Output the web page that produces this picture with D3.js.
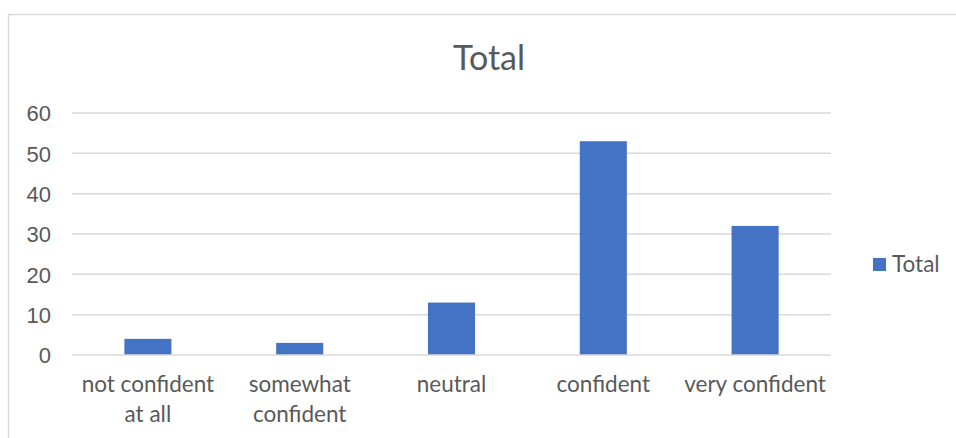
<!DOCTYPE html>
<html>
<head>
<meta charset="utf-8">
<script src="https://cdn.jsdelivr.net/npm/d3@7"></script>
<style>
  html, body { margin: 0; padding: 0; background: #ffffff; }
  svg { display: block; font-family: Lato, "Open Sans", sans-serif; }
</style>
</head>
<body>
<svg id="chart" width="956" height="438"></svg>
<script>
// Response counts per confidence level
const categories = [["not confident", "at all"], ["somewhat", "confident"], ["neutral"], ["confident"], ["very confident"]];
const totals = [4, 3, 13, 53, 32];
const yTicks = [0, 10, 20, 30, 40, 50, 60];
const seriesName = "Total";
const chartTitle = "Total";

const svg = d3.select("#chart");
const plot = { left: 72, right: 831, top: 113, bottom: 355 };
const textColor = "#595959";
const gridColor = "#d9d9d9";
const barColor = "#4472c4";

// Chart area frame (runs off the right and bottom edges)
svg.append("rect")
  .attr("x", 8.5).attr("y", 14.5)
  .attr("width", 960).attr("height", 440)
  .attr("fill", "#ffffff")
  .attr("stroke", gridColor).attr("stroke-width", 1.5);

const x = d3.scaleBand()
  .domain(d3.range(categories.length))
  .range([plot.left, plot.right])
  .paddingInner(0.69)
  .paddingOuter(0.345);

const y = d3.scaleLinear()
  .domain([0, 60])
  .range([plot.bottom, plot.top]);

// Horizontal gridlines
svg.append("g")
  .selectAll("line")
  .data(yTicks.filter(t => t > 0))
  .join("line")
  .attr("x1", plot.left).attr("x2", plot.right)
  .attr("y1", d => y(d)).attr("y2", d => y(d))
  .attr("stroke", gridColor).attr("stroke-width", 1.5);

// Y axis labels
const yAxis = d3.axisLeft(y).tickValues(yTicks).tickSize(0).tickPadding(0);
const yg = svg.append("g")
  .attr("transform", `translate(${plot.left - 21},0)`)
  .call(yAxis);
yg.select(".domain").remove();
yg.selectAll("text")
  .attr("fill", textColor)
  .style("font-size", "22px")
  .attr("dy", "0.36em");

// Bars
svg.append("g")
  .selectAll("rect")
  .data(totals)
  .join("rect")
  .attr("x", (d, i) => x(i))
  .attr("width", x.bandwidth())
  .attr("y", d => y(d))
  .attr("height", d => y(0) - y(d))
  .attr("fill", barColor);

// Baseline
svg.append("line")
  .attr("x1", plot.left).attr("x2", plot.right)
  .attr("y1", y(0)).attr("y2", y(0))
  .attr("stroke", gridColor).attr("stroke-width", 1.5);

// Category labels (wrapped over two lines where needed)
const xg = svg.append("g");
categories.forEach((lines, i) => {
  const t = xg.append("text")
    .attr("text-anchor", "middle")
    .attr("fill", textColor)
    .style("font-size", "22.5px");
  lines.forEach((ln, k) => {
    t.append("tspan")
      .attr("x", x(i) + x.bandwidth() / 2)
      .attr("y", 392 + k * 30)
      .text(ln);
  });
});

// Title
svg.append("text")
  .attr("x", 489).attr("y", 70)
  .attr("text-anchor", "middle")
  .attr("fill", textColor)
  .style("font-size", "34px")
  .text(chartTitle);

// Legend
const lg = svg.append("g");
lg.append("rect")
  .attr("x", 873).attr("y", 258)
  .attr("width", 13).attr("height", 13)
  .attr("fill", barColor);
lg.append("text")
  .attr("x", 892).attr("y", 272)
  .attr("fill", textColor)
  .style("font-size", "22.5px")
  .text(seriesName);
</script>
</body>
</html>
